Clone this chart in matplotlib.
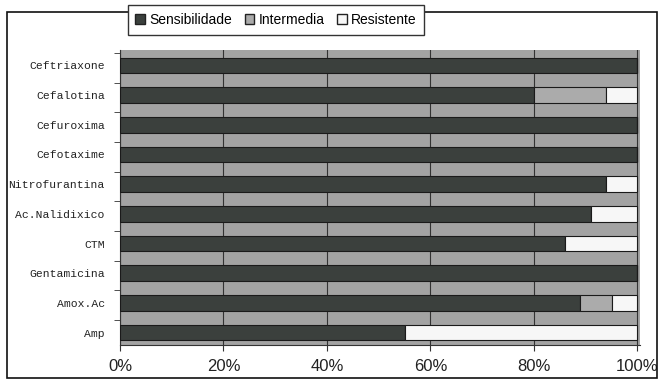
import matplotlib
matplotlib.use("Agg")
import matplotlib.pyplot as plt
from matplotlib.patches import Rectangle, Patch
import numpy as np

# Antibiotic susceptibility (%), listed bottom to top
antibiotics = ["Amp", "Amox.Ac", "Gentamicina", "CTM", "Ac.Nalidixico",
               "Nitrofurantina", "Cefotaxime", "Cefuroxima", "Cefalotina",
               "Ceftriaxone"]
sensibilidade = [55, 89, 100, 86, 91, 94, 100, 100, 80, 100]
intermedia = [0, 6, 0, 0, 0, 0, 0, 0, 14, 0]
resistente = [45, 5, 0, 14, 9, 6, 0, 0, 6, 0]
x_ticks = [0, 20, 40, 60, 80, 100]
x_tick_labels = ["0%", "20%", "40%", "60%", "80%", "100%"]
legend_labels = ["Sensibilidade", "Intermedia", "Resistente"]

c_sens = "#3b403d"
c_int = "#ababab"
c_res = "#f7f7f7"
c_wall = "#a3a3a3"

fig = plt.figure(figsize=(6.62, 3.81), dpi=100)
fig.patch.set_facecolor("white")
ax = fig.add_axes([120 / 662, 1 - 345 / 381, 520 / 662, 295 / 381])
ax.set_facecolor(c_wall)

y = np.arange(len(antibiotics))
h = 0.52
off = 0.08
sens = np.array(sensibilidade)
inter = np.array(intermedia)
res = np.array(resistente)
ax.barh(y + off, sens, height=h, color=c_sens, edgecolor="#1a1a1a", linewidth=0.8, zorder=3)
ax.barh(y + off, inter, left=sens, height=h, color=c_int, edgecolor="#1a1a1a", linewidth=0.8, zorder=3)
ax.barh(y + off, res, left=sens + inter, height=h, color=c_res, edgecolor="#1a1a1a", linewidth=0.8, zorder=3)

ax.set_xlim(0, 100.5)
ax.set_ylim(-0.34, len(antibiotics) - 1 + 0.6)
ax.set_xticks(x_ticks)
ax.set_xticklabels(x_tick_labels, fontsize=12, family="Liberation Sans", color="#222222")
ax.set_yticks(y + off)
ax.set_yticklabels(antibiotics, fontsize=8.2, family="Liberation Mono", color="#222222")
ax.set_yticks(np.arange(len(antibiotics)) + 0.5, minor=True)
ax.tick_params(axis="y", which="major", length=0, pad=11)
ax.tick_params(axis="y", which="minor", length=4, color="#333333")
ax.tick_params(axis="x", length=4, color="#333333", pad=6)
ax.grid(axis="x", color="#333333", linewidth=0.8, zorder=1)
ax.set_axisbelow(True)
for side in ["top", "right"]:
    ax.spines[side].set_visible(False)
ax.spines["left"].set_color("#333333")
ax.spines["bottom"].set_color("#333333")

# outer frame
fig.add_artist(Rectangle((7 / 662, 1 - 378 / 381), 650 / 662, 366 / 381,
                         transform=fig.transFigure, fill=False,
                         edgecolor="#111111", linewidth=1.2))

handles = [Patch(facecolor=c_sens, edgecolor="#222222"),
           Patch(facecolor=c_int, edgecolor="#222222"),
           Patch(facecolor=c_res, edgecolor="#222222")]
leg = fig.legend(handles, legend_labels, loc="center", bbox_to_anchor=(276 / 662, 1 - 20 / 381),
                 ncol=3, frameon=True, fancybox=False, handlelength=0.7,
                 handleheight=0.7, handletextpad=0.3, columnspacing=0.9,
                 prop={"family": "Liberation Sans", "size": 10}, borderpad=0.55)
leg.get_frame().set_edgecolor("#333333")
leg.get_frame().set_facecolor("white")
leg.get_frame().set_alpha(1)

fig.savefig("out.png", dpi=100)
